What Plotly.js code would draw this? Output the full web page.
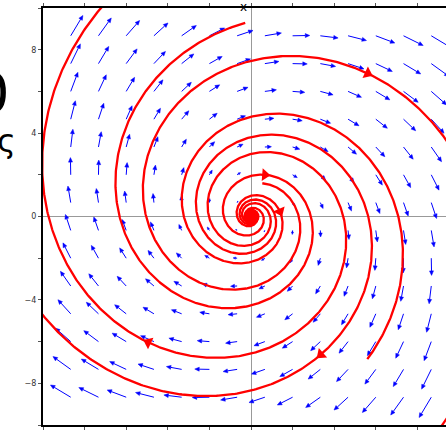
<!DOCTYPE html>
<html>
<head>
<meta charset="utf-8">
<script src="https://cdn.plot.ly/plotly-3.0.1.min.js"></script>
<style>
html,body{margin:0;padding:0;overflow:hidden;background:#fff;width:446px;height:431px;}
#plot{width:480px;height:460px;}
</style>
</head>
<body>
<div id="plot"></div>
<script>
// Linear system read from the arrows/spirals: dx/dt = m00*x + m01*y, dy/dt = m10*x + m11*y
const systemRow1 = [0.25, 1.0];
const systemRow2 = [-1.0, 0.25];

// Quiver grid (arrow tails)
const gridX = [-8.667, -7.333, -6.0, -4.667, -3.333, -2.0, -0.667, 0.667, 2.0, 3.333, 4.667, 6.0, 7.333, 8.667];
const gridY = [-8.667, -7.333, -6.0, -4.667, -3.333, -2.0, -0.667, 0.667, 2.0, 3.333, 4.667, 6.0, 7.333, 8.667];
const arrowScale = 0.09;

// Trajectories: initial points (where the red arrowheads sit), backward and forward times
const trajX0 = [5.61, 1.39, 3.36, -4.94, 0.67];
const trajY0 = [6.86, 0.24, -6.62, -6.04, 2.00];
const trajTBack = [6.64, 20, 20, 20, 20];
const trajTFwd = [3.0, 7.34, 2.5, 2.5, 5.93];

// Ticks
const xTickVals = [-8, -4, 0, 4, 8];
const xTickText = ['\u22128', '\u22124', '0', '4', '8'];
const yTickVals = [-8, -4, 0, 4, 8];
const yTickText = ['\u22128', '\u22124', '0', '4', '8'];

function field(x, y) {
  return [systemRow1[0] * x + systemRow1[1] * y, systemRow2[0] * x + systemRow2[1] * y];
}

function integrate(x0, y0, T) {
  const n = Math.max(1, Math.ceil(Math.abs(T) / 0.01));
  const h = T / n;
  let x = x0, y = y0;
  const xs = [x], ys = [y];
  for (let i = 0; i < n; i++) {
    const k1 = field(x, y);
    const k2 = field(x + h / 2 * k1[0], y + h / 2 * k1[1]);
    const k3 = field(x + h / 2 * k2[0], y + h / 2 * k2[1]);
    const k4 = field(x + h * k3[0], y + h * k3[1]);
    x += h / 6 * (k1[0] + 2 * k2[0] + 2 * k3[0] + k4[0]);
    y += h / 6 * (k1[1] + 2 * k2[1] + 2 * k3[1] + k4[1]);
    xs.push(x); ys.push(y);
  }
  return [xs, ys];
}

const traces = [];

// Blue quiver arrows: shafts + filled heads
const pxu = 1 / 20.8; // data units per pixel
const shaftX = [], shaftY = [], headX = [], headY = [];
gridX.forEach(gx => {
  gridY.forEach(gy => {
    const v = field(gx, gy);
    const dx = v[0] * arrowScale, dy = v[1] * arrowScale;
    const L = Math.hypot(dx, dy);
    if (L === 0) return;
    const ux = dx / L, uy = dy / L;
    let hl = 4.5 * pxu, hw = 2.0 * pxu;
    if (L < 7 * pxu) { hl = 0.6 * L; hw = 0.45 * hl; }
    const tx = gx + dx, ty = gy + dy;
    const bx = tx - ux * hl, by = ty - uy * hl;
    shaftX.push(gx, bx, null); shaftY.push(gy, by, null);
    headX.push(tx, bx - uy * hw, bx + uy * hw, tx, null);
    headY.push(ty, by + ux * hw, by - ux * hw, ty, null);
  });
});
traces.push({x: shaftX, y: shaftY, mode: 'lines', line: {color: '#0000ff', width: 1}, hoverinfo: 'skip', showlegend: false});
traces.push({x: headX, y: headY, mode: 'lines', fill: 'toself', fillcolor: '#0000ff', line: {color: '#0000ff', width: 0.5}, hoverinfo: 'skip', showlegend: false});

// Red trajectories
const arrowAngles = [];
const coreX = [], coreY = [];
trajX0.forEach((x0, i) => {
  const y0 = trajY0[i];
  const back = integrate(x0, y0, -trajTBack[i]);
  const fwd = integrate(x0, y0, trajTFwd[i]);
  const xs = back[0].slice().reverse().concat(fwd[0].slice(1));
  const ys = back[1].slice().reverse().concat(fwd[1].slice(1));
  traces.push({x: xs, y: ys, mode: 'lines', line: {color: '#ff0000', width: 2.3}, hoverinfo: 'skip', showlegend: false});
  // trajectories that wind down into the focus: mark their dense core
  if (Math.hypot(xs[0], ys[0]) < 0.2) { coreX.push(xs[0]); coreY.push(ys[0]); }
  const v = field(x0, y0);
  arrowAngles.push(-Math.atan2(v[1], v[0]) * 180 / Math.PI);
});
traces.push({
  x: coreX, y: coreY, mode: 'markers',
  marker: {symbol: 'circle', size: 15, color: '#ff0000', line: {width: 0}},
  hoverinfo: 'skip', showlegend: false
});
traces.push({
  x: trajX0, y: trajY0, mode: 'markers',
  marker: {symbol: 'triangle-right', size: 11, color: '#ff0000', angle: arrowAngles, line: {width: 0}},
  hoverinfo: 'skip', showlegend: false
});

const tickFont = {family: 'DejaVu Sans', size: 8, color: '#333'};
const layout = {
  width: 480, height: 460,
  margin: {l: 43, r: 21, t: 8, b: 35},
  paper_bgcolor: '#fff', plot_bgcolor: '#fff',
  showlegend: false,
  xaxis: {
    range: [-10, 10], showgrid: false, zeroline: true, zerolinecolor: '#999', zerolinewidth: 1,
    showline: true, linecolor: '#000', linewidth: 2, mirror: 'ticks',
    tickmode: 'array', tickvals: xTickVals, ticktext: xTickText,
    ticks: 'outside', ticklen: 3, tickcolor: '#555', tickwidth: 1, tickfont: tickFont,
    minor: {dtick: 2, ticks: 'outside', ticklen: 3, tickcolor: '#555', showgrid: false},
    fixedrange: true
  },
  yaxis: {
    range: [-10, 10], showgrid: false, zeroline: true, zerolinecolor: '#999', zerolinewidth: 1,
    showline: true, linecolor: '#000', linewidth: 2, mirror: 'ticks',
    tickmode: 'array', tickvals: yTickVals, ticktext: yTickText,
    ticks: 'outside', ticklen: 3, tickcolor: '#555', tickwidth: 1, tickfont: tickFont,
    minor: {dtick: 2, ticks: 'outside', ticklen: 3, tickcolor: '#555', showgrid: false},
    fixedrange: true
  },
  annotations: [
    {text: 'x', xref: 'x', yref: 'paper', x: -0.38, y: 1.002, xanchor: 'center', yanchor: 'middle',
     showarrow: false, font: {family: 'DejaVu Sans', size: 12, color: '#000'}},
    {text: '0', xref: 'paper', yref: 'paper', x: -0.074, y: 0.798, xanchor: 'right', yanchor: 'middle',
     showarrow: false, font: {family: 'DejaVu Sans', size: 56, color: '#000'}},
    {text: 'ς', xref: 'paper', yref: 'paper', x: -0.06, y: 0.68, xanchor: 'right', yanchor: 'middle',
     showarrow: false, font: {family: 'DejaVu Sans', size: 32, color: '#000'}}
  ]
};

Plotly.newPlot('plot', traces, layout, {displayModeBar: false, staticPlot: true});
</script>
</body>
</html>
